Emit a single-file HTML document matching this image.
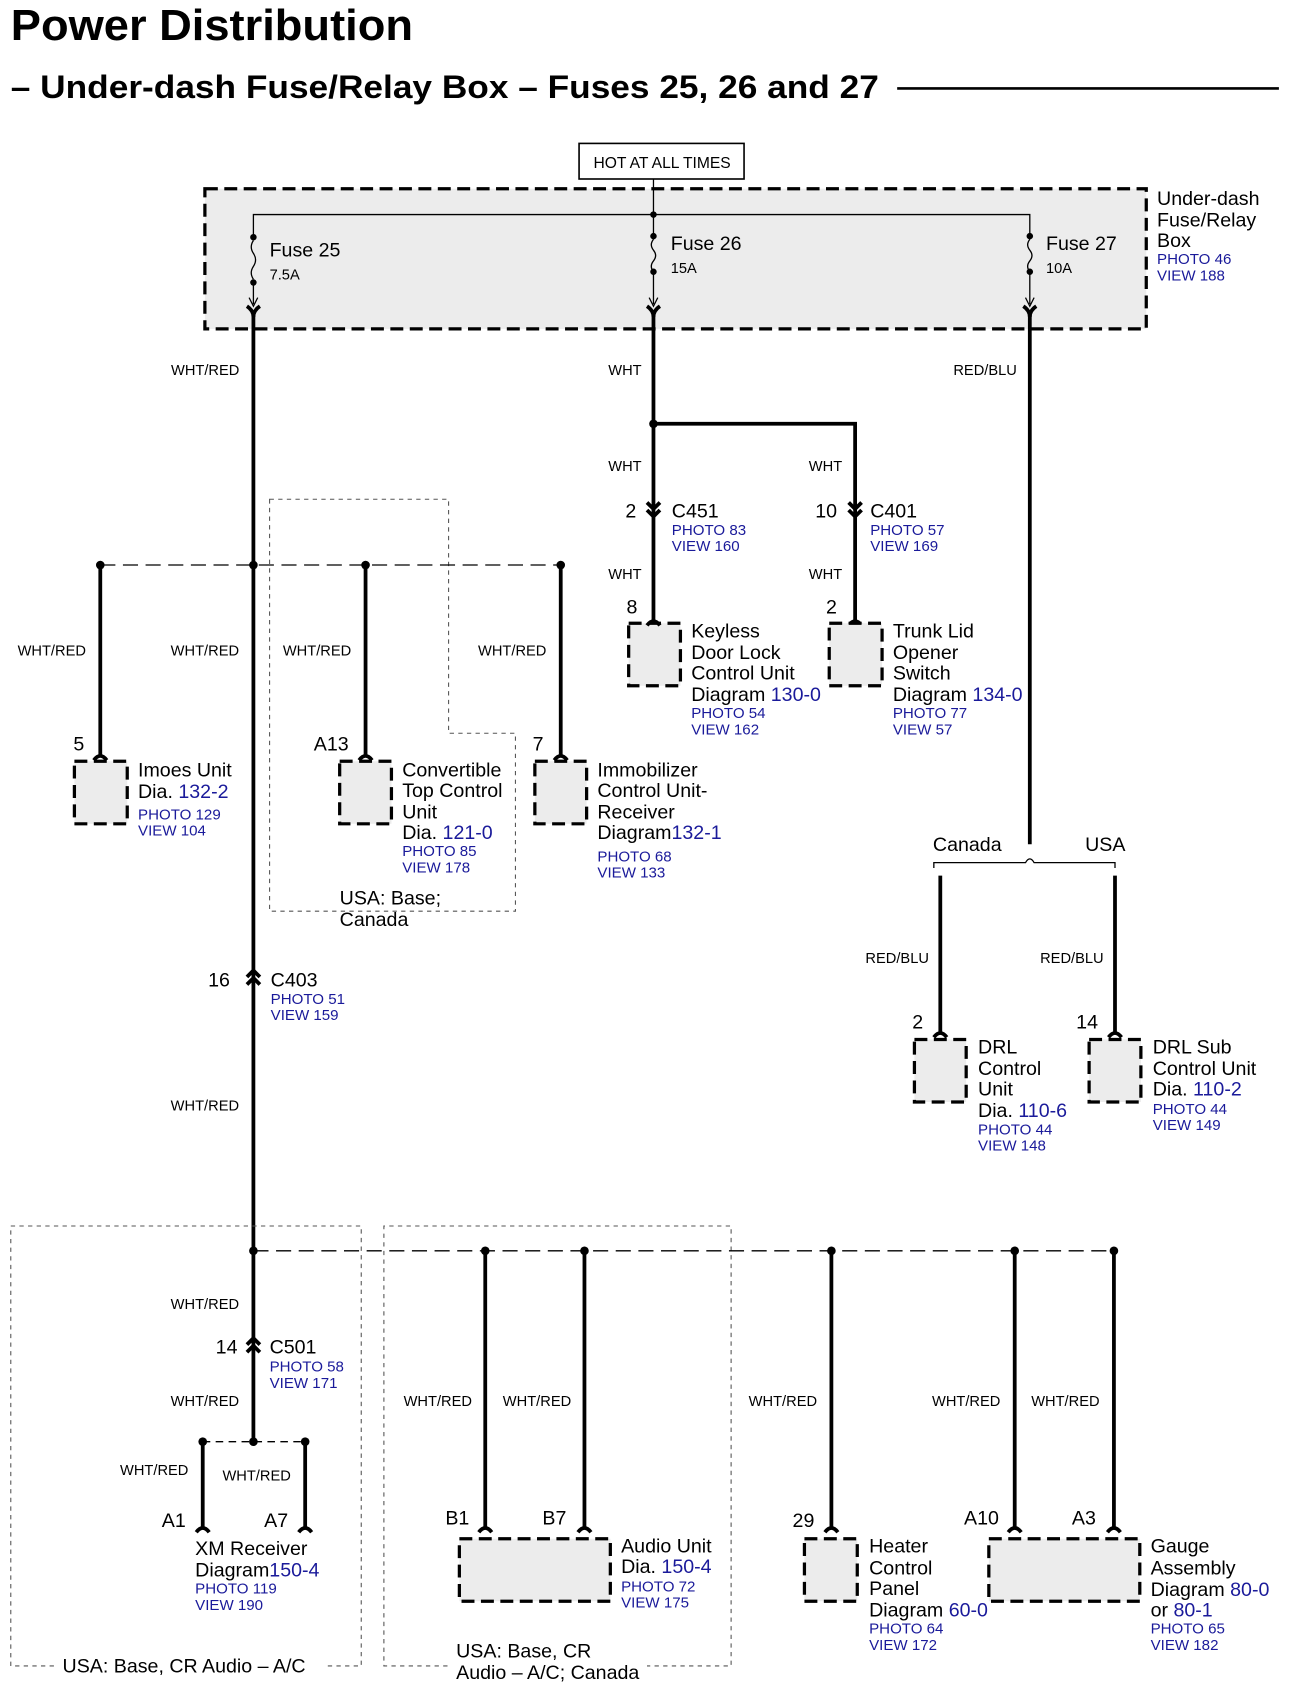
<!DOCTYPE html>
<html><head><meta charset="utf-8"><style>
html,body{margin:0;padding:0;background:#fff}
svg{display:block}
text{font-family:"Liberation Sans",Arial,sans-serif;fill:#000}
.t{font-size:18.2px}
.s{font-size:13.6px}
.b{fill:#1a1a9a;font-size:14px}
.bl{fill:#1a1a9a;font-size:18.2px}
.w{stroke:#000;stroke-width:3.5;fill:none}
.thin{stroke:#000;stroke-width:1.2;fill:none}
.dash{stroke:#000;stroke-width:1.2;fill:none;stroke-dasharray:14 7}
.reg{stroke:#555;stroke-width:1;fill:none;stroke-dasharray:4 4}
.box{fill:#ececec;stroke:#000;stroke-width:3;stroke-dasharray:12 6}
</style></head><body>
<svg width="1294" height="1694" viewBox="0 0 1200 1571" preserveAspectRatio="none" xmlns="http://www.w3.org/2000/svg">
<text x="10" y="37" style="font-size:40px;font-weight:bold" textLength="373" lengthAdjust="spacingAndGlyphs">Power Distribution</text>
<text x="10" y="91" style="font-size:30px;font-weight:bold" textLength="805" lengthAdjust="spacingAndGlyphs">– Under-dash Fuse/Relay Box – Fuses 25, 26 and 27</text>
<line x1="832" y1="82" x2="1186" y2="82" stroke="#000" stroke-width="2.5"/>

<rect x="537" y="133" width="153" height="33" fill="#fff" stroke="#000" stroke-width="1.5"/>
<text x="614" y="156" text-anchor="middle" style="font-size:14.5px">HOT AT ALL TIMES</text>
<rect x="190" y="175" width="873" height="130" class="box"/>
<line x1="606" y1="166" x2="606" y2="199" class="thin"/>
<polyline points="235,222 235,199 955,199 955,222" class="thin"/>
<line x1="606" y1="199" x2="606" y2="222" class="thin"/>
<g fill="#000">
<circle cx="606" cy="199" r="3"/>
<circle cx="235" cy="220" r="3"/><circle cx="235" cy="262" r="3"/>
<circle cx="606" cy="219" r="3"/><circle cx="606" cy="252" r="3"/>
<circle cx="955" cy="219" r="3"/><circle cx="955" cy="252" r="3"/>
</g>
<path d="M235 223 q-4 6 0 12 q4 6 0 12 q-4 6 0 12 M606 222 q-4 5 0 10 q4 5 0 10 q-4 5 0 10 M955 222 q-4 5 0 10 q4 5 0 10 q-4 5 0 10" class="thin"/>
<path d="M235 262 V282 M231 276 L235 284 L239 276 M606 252 V282 M602 276 L606 284 L610 276 M955 252 V282 M951 276 L955 284 L959 276" class="thin"/>
<path d="M229 284 Q235 288 235 294 Q235 288 241 284 M600 284 Q606 288 606 294 Q606 288 612 284 M949 284 Q955 288 955 294 Q955 288 961 284" class="w" stroke-width="2.5"/>
<text x="250" y="238" class="t">Fuse 25</text><text x="250" y="259" class="s">7.5A</text>
<text x="622" y="232" class="t">Fuse 26</text><text x="622" y="253" class="s">15A</text>
<text x="970" y="232" class="t">Fuse 27</text><text x="970" y="253" class="s">10A</text>
<text x="1073" y="190" class="t">Under-dash</text><text x="1073" y="210" class="t">Fuse/Relay</text><text x="1073" y="229" class="t">Box</text>
<text x="1073" y="245" class="b">PHOTO 46</text><text x="1073" y="260" class="b">VIEW 188</text>

<line x1="235" y1="290" x2="235" y2="1337" class="w"/>
<line x1="606" y1="290" x2="606" y2="577" class="w"/>
<polyline points="606,393 793,393 793,577" class="w"/>
<circle cx="606" cy="393" r="4"/>
<line x1="955" y1="290" x2="955" y2="783" class="w"/>
<text x="222" y="348" class="s" text-anchor="end">WHT/RED</text>
<text x="595" y="348" class="s" text-anchor="end">WHT</text>
<text x="943" y="348" class="s" text-anchor="end">RED/BLU</text>
<text x="595" y="437" class="s" text-anchor="end">WHT</text>
<text x="781" y="437" class="s" text-anchor="end">WHT</text>
<text x="595" y="537" class="s" text-anchor="end">WHT</text>
<text x="781" y="537" class="s" text-anchor="end">WHT</text>

<path d="M600 466 L606 472 L612 466 M600 473 L606 479 L612 473 M787 466 L793 472 L799 466 M787 473 L793 479 L799 473" class="w" stroke-width="2.5"/>
<text x="580" y="480" class="t">2</text>
<text x="623" y="480" class="t">C451</text><text x="623" y="496" class="b">PHOTO 83</text><text x="623" y="511" class="b">VIEW 160</text>
<text x="756" y="480" class="t">10</text>
<text x="807" y="480" class="t">C401</text><text x="807" y="496" class="b">PHOTO 57</text><text x="807" y="511" class="b">VIEW 169</text>

<text x="581" y="569" class="t">8</text>
<rect x="583" y="578" width="48" height="58" class="box"/>
<path d="M600 580 Q606 572 612 580 M787 580 Q793 572 799 580" class="w" stroke-width="2.5"/>
<text x="641" y="591" class="t">Keyless</text><text x="641" y="611" class="t">Door Lock</text><text x="641" y="630" class="t">Control Unit</text>
<text x="641" y="650" class="t">Diagram <tspan class="bl">130-0</tspan></text><text x="641" y="666" class="b">PHOTO 54</text><text x="641" y="681" class="b">VIEW 162</text>
<text x="766" y="569" class="t">2</text>
<rect x="769" y="578" width="49" height="58" class="box"/>
<text x="828" y="591" class="t">Trunk Lid</text><text x="828" y="611" class="t">Opener</text><text x="828" y="630" class="t">Switch</text>
<text x="828" y="650" class="t">Diagram <tspan class="bl">134-0</tspan></text><text x="828" y="666" class="b">PHOTO 77</text><text x="828" y="681" class="b">VIEW 57</text>

<path d="M250 463 H416 V680 H478 V845 H250 Z" class="reg"/>
<line x1="93" y1="524" x2="520" y2="524" class="dash"/>
<g fill="#000"><circle cx="93" cy="524" r="4"/><circle cx="235" cy="524" r="4"/><circle cx="339" cy="524" r="4"/><circle cx="520" cy="524" r="4"/></g>
<path d="M93 524 V702 M339 524 V702 M520 524 V702" class="w"/>
<path d="M87 705 Q93 697 99 705 M333 705 Q339 697 345 705 M514 705 Q520 697 526 705" class="w" stroke-width="2.5"/>
<text x="48" y="608" class="s" text-anchor="middle">WHT/RED</text>
<text x="190" y="608" class="s" text-anchor="middle">WHT/RED</text>
<text x="294" y="608" class="s" text-anchor="middle">WHT/RED</text>
<text x="475" y="608" class="s" text-anchor="middle">WHT/RED</text>

<text x="68" y="696" class="t">5</text>
<rect x="69" y="706" width="49" height="58" class="box"/>
<text x="128" y="720" class="t">Imoes Unit</text><text x="128" y="740" class="t">Dia. <tspan class="bl">132-2</tspan></text>
<text x="128" y="760" class="b">PHOTO 129</text><text x="128" y="775" class="b">VIEW 104</text>
<text x="291" y="696" class="t">A13</text>
<rect x="315" y="706" width="48" height="58" class="box"/>
<text x="373" y="720" class="t">Convertible</text><text x="373" y="739" class="t">Top Control</text><text x="373" y="759" class="t">Unit</text>
<text x="373" y="778" class="t">Dia. <tspan class="bl">121-0</tspan></text><text x="373" y="794" class="b">PHOTO 85</text><text x="373" y="809" class="b">VIEW 178</text>
<text x="494" y="696" class="t">7</text>
<rect x="496" y="706" width="48" height="58" class="box"/>
<text x="554" y="720" class="t">Immobilizer</text><text x="554" y="739" class="t">Control Unit-</text><text x="554" y="759" class="t">Receiver</text>
<text x="554" y="778" class="t">Diagram<tspan class="bl">132-1</tspan></text><text x="554" y="799" class="b">PHOTO 68</text><text x="554" y="814" class="b">VIEW 133</text>
<text x="315" y="839" class="t">USA: Base;</text><text x="315" y="859" class="t">Canada</text>

<path d="M229 906 L235 900 L241 906 M229 913 L235 907 L241 913" class="w" stroke-width="2.5"/>
<text x="193" y="915" class="t">16</text>
<text x="251" y="915" class="t">C403</text><text x="251" y="931" class="b">PHOTO 51</text><text x="251" y="946" class="b">VIEW 159</text>
<text x="190" y="1030" class="s" text-anchor="middle">WHT/RED</text>

<path d="M866 805 V800 H951 Q955 793 959 800 H1034 V805" class="thin"/>
<path d="M872 812 V958 M1034 812 V958" class="w"/>
<path d="M866 962 Q872 954 878 962 M1028 962 Q1034 954 1040 962" class="w" stroke-width="2.5"/>
<text x="897" y="789" class="t" text-anchor="middle">Canada</text><text x="1025" y="789" class="t" text-anchor="middle">USA</text>
<text x="832" y="893" class="s" text-anchor="middle">RED/BLU</text><text x="994" y="893" class="s" text-anchor="middle">RED/BLU</text>
<text x="846" y="954" class="t">2</text>
<rect x="848" y="964" width="48" height="58" class="box"/>
<text x="907" y="977" class="t">DRL</text><text x="907" y="997" class="t">Control</text><text x="907" y="1016" class="t">Unit</text>
<text x="907" y="1036" class="t">Dia. <tspan class="bl">110-6</tspan></text><text x="907" y="1052" class="b">PHOTO 44</text><text x="907" y="1067" class="b">VIEW 148</text>
<text x="998" y="954" class="t">14</text>
<rect x="1010" y="964" width="48" height="58" class="box"/>
<text x="1069" y="977" class="t">DRL Sub</text><text x="1069" y="997" class="t">Control Unit</text>
<text x="1069" y="1016" class="t">Dia. <tspan class="bl">110-2</tspan></text><text x="1069" y="1033" class="b">PHOTO 44</text><text x="1069" y="1048" class="b">VIEW 149</text>

<path d="M50 1545 H10 V1137 H335 V1545 H300" class="reg"/>
<path d="M415 1545 H356 V1137 H678 V1545 H600" class="reg"/>
<line x1="235" y1="1160" x2="1033" y2="1160" class="dash"/>
<g fill="#000"><circle cx="235" cy="1160" r="4"/><circle cx="450" cy="1160" r="4"/><circle cx="542" cy="1160" r="4"/><circle cx="771" cy="1160" r="4"/><circle cx="941" cy="1160" r="4"/><circle cx="1033" cy="1160" r="4"/></g>
<text x="190" y="1214" class="s" text-anchor="middle">WHT/RED</text>
<path d="M229 1247 L235 1241 L241 1247 M229 1254 L235 1248 L241 1254" class="w" stroke-width="2.5"/>
<text x="200" y="1255" class="t">14</text>
<text x="250" y="1255" class="t">C501</text><text x="250" y="1272" class="b">PHOTO 58</text><text x="250" y="1287" class="b">VIEW 171</text>
<text x="190" y="1304" class="s" text-anchor="middle">WHT/RED</text>
<line x1="188" y1="1337" x2="283" y2="1337" class="thin" stroke-dasharray="7 5"/>
<g fill="#000"><circle cx="188" cy="1337" r="4"/><circle cx="235" cy="1337" r="4"/><circle cx="283" cy="1337" r="4"/></g>
<path d="M188 1337 V1416 M283 1337 V1416 M450 1160 V1416 M542 1160 V1416 M771 1160 V1416 M941 1160 V1416 M1033 1160 V1416" class="w"/>
<path d="M182 1421 Q188 1413 194 1421 M277 1421 Q283 1413 289 1421 M444 1421 Q450 1413 456 1421 M536 1421 Q542 1413 548 1421 M765 1421 Q771 1413 777 1421 M935 1421 Q941 1413 947 1421 M1027 1421 Q1033 1413 1039 1421" class="w" stroke-width="2.5"/>
<text x="143" y="1368" class="s" text-anchor="middle">WHT/RED</text>
<text x="238" y="1373" class="s" text-anchor="middle">WHT/RED</text>
<text x="406" y="1304" class="s" text-anchor="middle">WHT/RED</text>
<text x="498" y="1304" class="s" text-anchor="middle">WHT/RED</text>
<text x="726" y="1304" class="s" text-anchor="middle">WHT/RED</text>
<text x="896" y="1304" class="s" text-anchor="middle">WHT/RED</text>
<text x="988" y="1304" class="s" text-anchor="middle">WHT/RED</text>

<text x="150" y="1416" class="t">A1</text><text x="245" y="1416" class="t">A7</text>
<text x="181" y="1442" class="t">XM Receiver</text><text x="181" y="1462" class="t">Diagram<tspan class="bl">150-4</tspan></text>
<text x="181" y="1478" class="b">PHOTO 119</text><text x="181" y="1493" class="b">VIEW 190</text>

<text x="413" y="1414" class="t">B1</text><text x="503" y="1414" class="t">B7</text>
<rect x="426" y="1427" width="140" height="58" class="box"/>
<text x="576" y="1440" class="t">Audio Unit</text><text x="576" y="1459" class="t">Dia. <tspan class="bl">150-4</tspan></text>
<text x="576" y="1476" class="b">PHOTO 72</text><text x="576" y="1491" class="b">VIEW 175</text>

<text x="735" y="1416" class="t">29</text>
<rect x="746" y="1427" width="49" height="58" class="box"/>
<text x="806" y="1440" class="t">Heater</text><text x="806" y="1460" class="t">Control</text><text x="806" y="1479" class="t">Panel</text>
<text x="806" y="1499" class="t">Diagram <tspan class="bl">60-0</tspan></text><text x="806" y="1515" class="b">PHOTO 64</text><text x="806" y="1530" class="b">VIEW 172</text>

<text x="894" y="1414" class="t">A10</text><text x="994" y="1414" class="t">A3</text>
<rect x="917" y="1427" width="140" height="58" class="box"/>
<text x="1067" y="1440" class="t">Gauge</text><text x="1067" y="1460" class="t">Assembly</text>
<text x="1067" y="1480" class="t">Diagram <tspan class="bl">80-0</tspan></text><text x="1067" y="1499" class="t">or <tspan class="bl">80-1</tspan></text>
<text x="1067" y="1515" class="b">PHOTO 65</text><text x="1067" y="1530" class="b">VIEW 182</text>

<text x="58" y="1551" class="t">USA: Base, CR Audio – A/C</text>
<text x="423" y="1537" class="t">USA: Base, CR</text><text x="423" y="1557" class="t">Audio – A/C; Canada</text>
</svg>
</body></html>
